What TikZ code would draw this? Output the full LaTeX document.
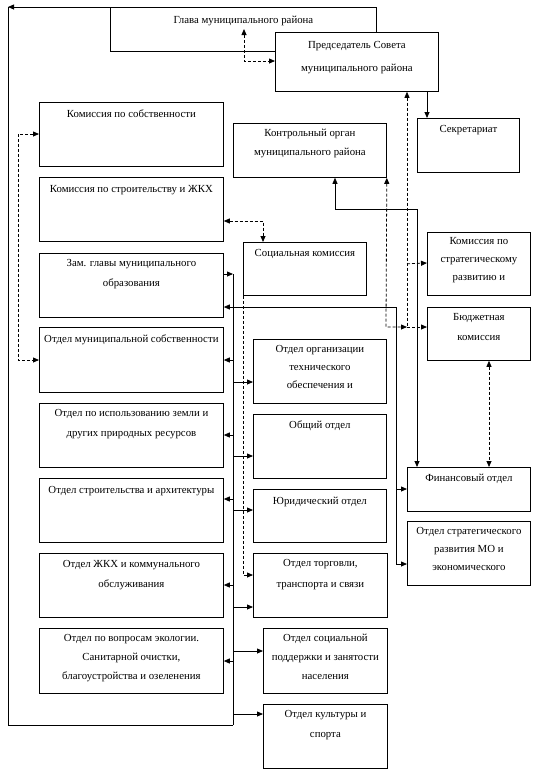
\documentclass[tikz,border=0pt]{standalone}
\usepackage{fontspec}
\setmainfont{Liberation Serif}
\usetikzlibrary{arrows.meta}
\tikzset{
  box/.style={draw, fill=white, line width=0.8pt, inner sep=0pt, anchor=north west},
  ln/.style={line width=0.8pt},
  dln/.style={line width=0.8pt, dash pattern=on 3pt off 2pt},
  >={Triangle[length=6pt,width=5pt]}
}
% name, x1, y1, x2, y2, first baseline offset, baselineskip, text
\newcommand\ob[8]{%
  \node[box] (#1) at (#2,#3) {\parbox[t][\dimexpr#5pt-#3pt\relax][t]{\dimexpr#4pt-#2pt\relax}{\centering\fontsize{10.8}{#7}\selectfont\rule{0pt}{#6pt}#8\par}};}
\begin{document}
\begin{tikzpicture}[x=1pt,y=-1pt]
\useasboundingbox (0,0) rectangle (533,772);
\ob{glava}{110}{7}{376}{51}{16}{20}{Глава муниципального района}
\ob{pred}{275}{32}{438}{91}{15.7}{23}{Председатель Совета\\муниципального района}
\ob{kso}{39}{102}{223}{166}{15.5}{20}{Комиссия по собственности}
\ob{kstr}{39}{177}{223}{241}{15.5}{20}{Комиссия по строительству и ЖКХ}
\ob{zam}{39}{253}{223}{317}{13.5}{20}{Зам. главы муниципального\\образования}
\ob{oms}{39}{327}{223}{392}{15.5}{20}{Отдел муниципальной собственности}
\ob{zem}{39}{403}{223}{467}{13.5}{20}{Отдел по использованию земли и\\других природных ресурсов}
\ob{stro}{39}{478}{223}{542}{15.5}{20}{Отдел строительства и архитектуры}
\ob{zhkh}{39}{553}{223}{617}{14.5}{20}{Отдел ЖКХ и коммунального\\обслуживания}
\ob{eco}{39}{628}{223}{693}{13.5}{19}{Отдел по вопросам экологии.\\Санитарной очистки,\\благоустройства и озеленения}
\ob{kontr}{233}{123}{386}{177}{13.5}{19}{Контрольный орган\\муниципального района}
\ob{sek}{417}{118}{519}{172}{14.5}{20}{Секретариат}
\ob{soc}{243}{242}{366}{295}{14.5}{20}{Социальная комиссия}
\ob{kst}{427}{232}{530}{295}{12.5}{18}{Комиссия по\\стратегическому\\развитию и}
\ob{bud}{427}{307}{530}{360}{13.5}{20}{Бюджетная\\комиссия}
\ob{org}{253}{339}{386}{403}{13.5}{18}{Отдел организации\\технического\\обеспечения и}
\ob{obsh}{253}{414}{386}{478}{14.5}{20}{Общий отдел}
\ob{yur}{253}{489}{386}{542}{15.5}{20}{Юридический отдел}
\ob{torg}{253}{553}{387}{617}{13.5}{21}{Отдел торговли,\\транспорта и связи}
\ob{fin}{407}{467}{530}{511}{14.5}{20}{Финансовый отдел}
\ob{strat}{407}{521}{530}{585}{13.5}{18}{Отдел стратегического\\развития МО и\\экономического}
\ob{socp}{263}{628}{387}{693}{13.5}{19}{Отдел социальной\\поддержки и занятости\\населения}
\ob{kult}{263}{704}{387}{768}{13.5}{20}{Отдел культуры и\\спорта}
% coordinates
\coordinate (lc) at (8,7);
\coordinate (lb) at (8,725);
\coordinate (bt) at (233,274);
\coordinate (bb) at (233,725);
\coordinate (g1) at (244,29);
\coordinate (d1) at (407,327);
\coordinate (d2) at (386,327);
\coordinate (z1) at (396,307);
\coordinate (z2) at (396,564);
% outer loop
\draw[ln,->] (glava.north west) -- (lc);
\draw[ln] (lc) -- (lb) -- (bb);
% glava <-> pred
\draw[dln,<->] (g1) |- (pred.west |- 0,61);
% pred -> sek
\draw[ln,->] (pred.south -| 427,0) -- (sek.north -| 427,0);
% dashed from pred
\draw[dln,<-] (pred.south -| d1) -- (d1);
\draw[dln,->] (pred.south -| 407,0) ++(0,172) -- (kst.west |- 0,263);
\draw[dln,->] (d1) -- (bud.west |- d1);
\draw[dln,<->] (kontr.south east) -- (d2) -- (d1);
% kontr solid
\draw[ln,<->] (kontr.south -| 335,0) |- (417,209) -- (fin.north -| 417,0);
% bud <-> fin
\draw[dln,<->] (bud.south -| 489,0) -- (fin.north -| 489,0);
% zam line to finance
\draw[ln,->] (z1) -- (zam.east |- z1);
\draw[ln] (z1) -- (z2);
\draw[ln,->] (z1 |- 0,489) -- (fin.west |- 0,489);
\draw[ln,->] (z2) -- (strat.west |- z2);
% kstr <-> soc
\draw[dln,<->] (kstr.east |- 0,221) -| (soc.north -| 263,0);
% kso <-> oms
\draw[dln,<->] (kso.west |- 0,134) -- (18,134) -- (18,360) -- (oms.west |- 0,360);
% soc -> torg dashed
\draw[dln,->] (soc.south west) |- (torg.west |- 0,575);
% bus
\draw[ln,->] (zam.east |- bt) -- (bt);
\draw[ln] (bt) -- (bb);
\foreach \n/\y in {oms/360, zem/435, stro/499, zhkh/585, eco/661}
  \draw[ln,->] (233,\y) -- (\n.east |- 0,\y);
\foreach \n/\y in {org/382, obsh/456, yur/510, torg/607, socp/651, kult/714}
  \draw[ln,->] (233,\y) -- (\n.west |- 0,\y);
\end{tikzpicture}
\end{document}
